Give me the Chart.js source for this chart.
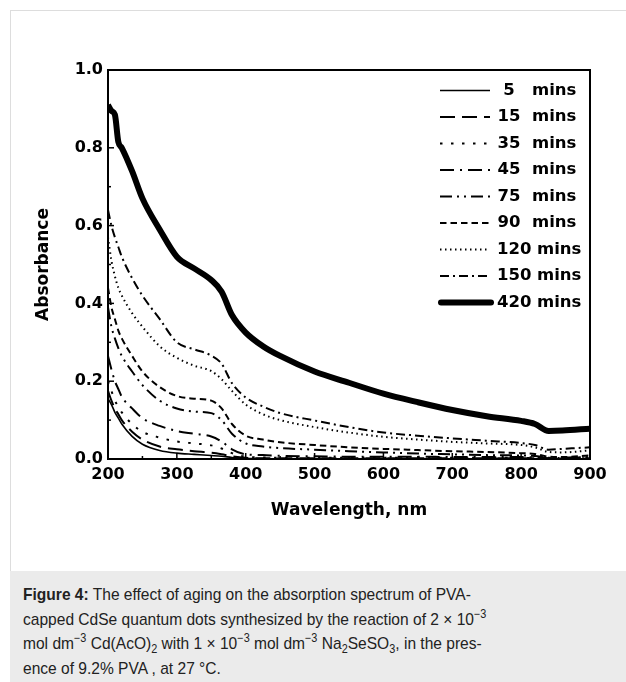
<!DOCTYPE html>
<html>
<head>
<meta charset="utf-8">
<script src="https://cdn.jsdelivr.net/npm/chart.js@4.4.1/dist/chart.umd.min.js"></script>
<style>
  body { margin: 0; background: #fff; width: 626px; height: 682px; overflow: hidden; position: relative; }
  #panel { position: absolute; left: 10px; top: 10px; width: 700px; height: 700px; border: 1px solid #dddddd; }
  #absorption_chart { position: absolute; left: 0; top: 0; }
  #caption { position: absolute; left: 10px; top: 571px; width: 640px; height: 120px; background: #ebebeb; }
  #caption p { margin: 0; position: absolute; left: 13px; top: 12px; font-family: "Liberation Sans", Arial, sans-serif;
    font-size: 17px; line-height: 24.5px; color: #222; white-space: nowrap; transform: scaleX(0.915); transform-origin: left top; }
  sup, sub { font-size: 70%; line-height: 0; }
</style>
</head>
<body>
<div id="panel"></div>
<canvas id="absorption_chart" width="626" height="570"></canvas>
<div id="caption">
  <p><b>Figure 4:</b> The effect of aging on the absorption spectrum of PVA-<br>
  capped CdSe quantum dots synthesized by the reaction of 2 × 10<sup>−3</sup><br>
  mol dm<sup>−3</sup> Cd(AcO)<sub>2</sub> with 1 × 10<sup>−3</sup> mol dm<sup>−3</sup> Na<sub>2</sub>SeSO<sub>3</sub>, in the pres-<br>
  ence of 9.2% PVA , at 27 °C.</p>
</div>
<script>
// Espectro de absorcao - envelhecimento dos pontos quanticos

const wavelengths = [200, 205, 210, 215, 220, 235, 250, 275, 300, 325, 350, 365, 380, 400, 425, 450, 500, 550, 600, 650, 700, 750, 800, 820, 840, 860, 900];

const mins5   = [0.155, 0.14, 0.12, 0.105, 0.09, 0.058, 0.038, 0.022, 0.015, 0.012, 0.009, 0.007, 0.004, 0.001, 0.001, 0, 0, 0, 0, 0, 0, 0, 0, 0, 0, 0, 0];
const mins15  = [0.175, 0.15, 0.13, 0.115, 0.1, 0.07, 0.05, 0.032, 0.025, 0.02, 0.016, 0.012, 0.007, 0.003, 0.002, 0.002, 0.002, 0.002, 0.002, 0.002, 0.002, 0.002, 0.002, 0.002, 0.001, 0.001, 0.002];
const mins35  = [0.20, 0.175, 0.15, 0.135, 0.12, 0.09, 0.07, 0.055, 0.045, 0.04, 0.035, 0.027, 0.015, 0.006, 0.004, 0.003, 0.003, 0.003, 0.003, 0.003, 0.003, 0.003, 0.003, 0.002, 0.001, 0.001, 0.002];
const mins45  = [0.265, 0.23, 0.2, 0.18, 0.16, 0.13, 0.105, 0.085, 0.072, 0.065, 0.058, 0.045, 0.025, 0.012, 0.01, 0.008, 0.007, 0.006, 0.006, 0.006, 0.005, 0.005, 0.005, 0.004, 0.002, 0.003, 0.004];
const mins75  = [0.39, 0.34, 0.31, 0.285, 0.265, 0.225, 0.19, 0.15, 0.13, 0.122, 0.118, 0.1, 0.065, 0.04, 0.032, 0.028, 0.024, 0.02, 0.017, 0.014, 0.012, 0.01, 0.009, 0.008, 0.003, 0.003, 0.005];
const mins90  = [0.44, 0.39, 0.36, 0.33, 0.31, 0.265, 0.225, 0.185, 0.162, 0.155, 0.15, 0.13, 0.09, 0.06, 0.05, 0.043, 0.036, 0.03, 0.026, 0.023, 0.02, 0.018, 0.015, 0.013, 0.006, 0.005, 0.009];
const mins120 = [0.57, 0.51, 0.47, 0.44, 0.42, 0.375, 0.34, 0.29, 0.26, 0.24, 0.226, 0.205, 0.175, 0.14, 0.115, 0.1, 0.082, 0.068, 0.057, 0.05, 0.044, 0.04, 0.036, 0.03, 0.018, 0.017, 0.022];
const mins150 = [0.64, 0.60, 0.57, 0.545, 0.52, 0.465, 0.42, 0.36, 0.30, 0.282, 0.266, 0.245, 0.195, 0.158, 0.135, 0.118, 0.099, 0.082, 0.068, 0.06, 0.053, 0.047, 0.041, 0.036, 0.024, 0.026, 0.03];
const mins420 = [0.91, 0.895, 0.885, 0.815, 0.80, 0.74, 0.67, 0.59, 0.52, 0.49, 0.46, 0.43, 0.37, 0.325, 0.29, 0.265, 0.225, 0.196, 0.168, 0.146, 0.126, 0.11, 0.098, 0.09, 0.072, 0.073, 0.078];

const seriesLabels = ['5 mins', '15 mins', '35 mins', '45 mins', '75 mins', '90 mins', '120 mins', '150 mins', '420 mins'];
const seriesValues = [mins5, mins15, mins35, mins45, mins75, mins90, mins120, mins150, mins420];

// estilo de cada curva (tracejado e espessura)
const dashes = [[], [15, 7], [2.5, 8.5], [14, 6, 2, 6], [12, 5, 2, 5, 2, 5], [6.5, 4], [1.5, 3.5], [9, 4, 2, 4], []];
const widths = [1.6, 2, 2, 2, 2, 2, 2, 2, 6];

const datasets = seriesLabels.map((label, i) => ({
    label: label,
    data: wavelengths.map((w, j) => ({ x: w, y: seriesValues[i][j] })),
    borderColor: '#000',
    borderWidth: widths[i],
    borderDash: dashes[i],
    pointRadius: 0,
    fill: false,
    cubicInterpolationMode: 'monotone'
}));

// moldura, tracinhos internos e legenda desenhados a mao
const framePlugin = {
    id: 'framePlugin',
    afterDatasetsDraw(chart) {
        const ctx = chart.ctx;
        const a = chart.chartArea;
        const xs = chart.scales.x, ys = chart.scales.y;
        ctx.save();
        ctx.strokeStyle = '#000';
        ctx.setLineDash([]);
        ctx.lineWidth = 2;
        ctx.strokeRect(a.left, a.top, a.right - a.left, a.bottom - a.top);
        ctx.lineWidth = 1.5;
        for (let v = 200; v <= 900; v += 50) {
            const px = xs.getPixelForValue(v);
            const len = v % 100 === 0 ? 6 : 3;
            ctx.beginPath(); ctx.moveTo(px, a.bottom); ctx.lineTo(px, a.bottom - len); ctx.stroke();
        }
        for (let k = 0; k <= 10; k++) {
            const py = ys.getPixelForValue(k / 10);
            const len = k % 2 === 0 ? 6 : 3;
            ctx.beginPath(); ctx.moveTo(a.left, py); ctx.lineTo(a.left + len, py); ctx.stroke();
        }
        // legenda
        ctx.font = 'bold 16.5px "DejaVu Sans"';
        ctx.fillStyle = '#000';
        ctx.textBaseline = 'middle';
        chart.data.datasets.forEach((ds, i) => {
            const y = 90.5 + i * 26.5;
            ctx.lineWidth = ds.borderWidth;
            ctx.setLineDash(ds.borderDash);
            ctx.lineCap = ds.borderWidth > 3 ? 'round' : 'butt';
            ctx.beginPath();
            ctx.moveTo(ds.borderWidth > 3 ? 441 : 440, y);
            ctx.lineTo(ds.borderWidth > 3 ? 491 : 490, y);
            ctx.stroke();
            const num = ds.label.split(' ')[0];
            if (num.length < 3) {
                ctx.textAlign = 'center';
                ctx.fillText(num, 509, y);
                ctx.textAlign = 'left';
                ctx.fillText('mins', 532, y);
            } else {
                ctx.textAlign = 'left';
                ctx.fillText(num, 497, y);
                ctx.fillText('mins', 537, y);
            }
        });
        ctx.restore();
    }
};

const ctx1 = document.getElementById('absorption_chart');
const chartGraph1 = new Chart(ctx1, {
    type: 'line',
    data: { datasets: datasets },
    options: {
        responsive: false,
        animation: false,
        devicePixelRatio: 1,
        layout: { padding: { left: 29, right: 36, top: 70, bottom: 45 } },
        scales: {
            x: {
                type: 'linear',
                min: 200,
                max: 900,
                grid: { display: false, drawTicks: false },
                border: { display: false },
                ticks: { stepSize: 100, color: '#000', padding: 6, font: { family: 'DejaVu Sans', size: 16, weight: 'bold' } },
                title: { display: true, text: 'Wavelength, nm', color: '#000', padding: 4, font: { family: 'DejaVu Sans', size: 17, weight: 'bold' } },
                afterFit: (scale) => { scale.height = 66; scale.paddingLeft = 0; scale.paddingRight = 0; }
            },
            y: {
                min: 0,
                max: 1,
                grid: { display: false, drawTicks: false },
                border: { display: false },
                ticks: { stepSize: 0.2, color: '#000', padding: 5, font: { family: 'DejaVu Sans', size: 16, weight: 'bold' },
                    callback: (v) => v.toFixed(1) },
                title: { display: true, text: 'Absorbance', color: '#000', padding: 4, font: { family: 'DejaVu Sans', size: 17, weight: 'bold' } },
                afterFit: (scale) => { scale.width = 79; scale.paddingTop = 0; scale.paddingBottom = 0; }
            }
        },
        plugins: {
            legend: { display: false },
            tooltip: { enabled: false }
        }
    },
    plugins: [framePlugin]
});
</script>
</body>
</html>
